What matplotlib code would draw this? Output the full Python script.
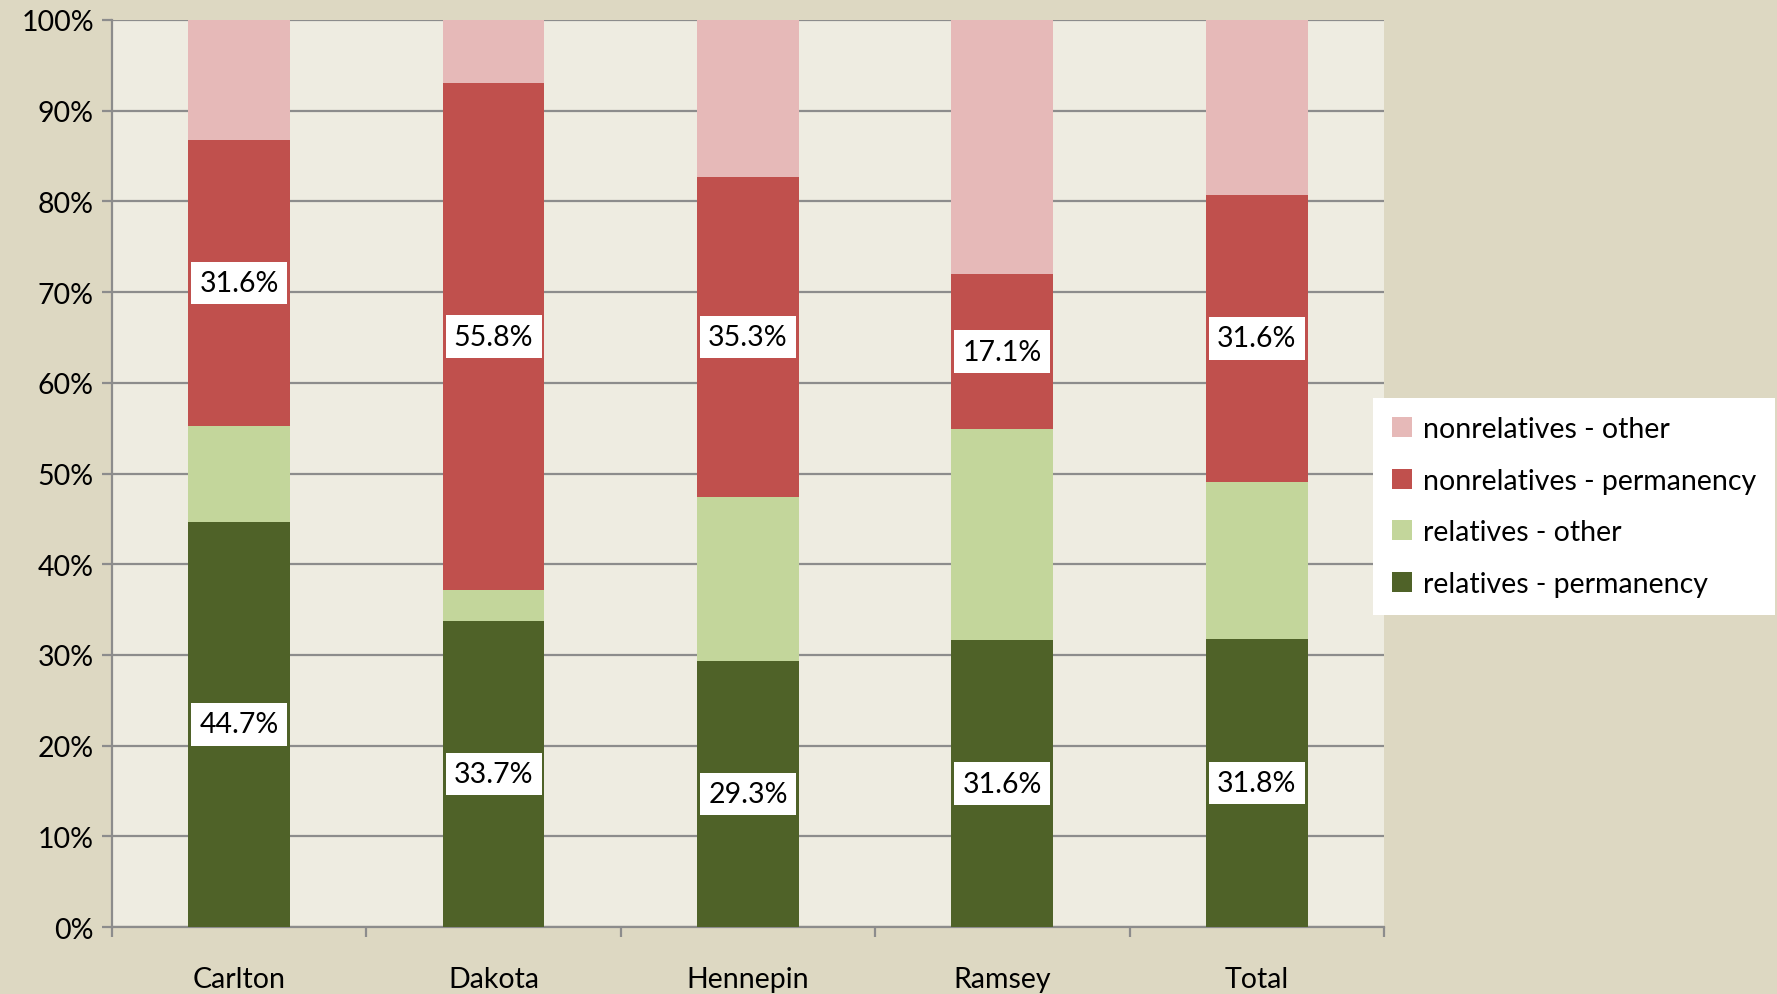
import numpy as np
import matplotlib
matplotlib.use("Agg")
import matplotlib.pyplot as plt
from matplotlib.ticker import PercentFormatter

plt.rcParams['font.family'] = ['Lato', 'DejaVu Sans']

# data (percent of each county)
counties = ["Carlton", "Dakota", "Hennepin", "Ramsey", "Total"]
rel_perm = np.array([44.7, 33.7, 29.3, 31.6, 31.8])
rel_other = np.array([10.5, 3.5, 18.1, 23.3, 17.3])
nonrel_perm = np.array([31.6, 55.8, 35.3, 17.1, 31.6])
nonrel_other = 100 - rel_perm - rel_other - nonrel_perm

series = [
    ("relatives - permanency", rel_perm, "#4F6228", True),
    ("relatives - other", rel_other, "#C3D69B", False),
    ("nonrelatives - permanency", nonrel_perm, "#C0504D", True),
    ("nonrelatives - other", nonrel_other, "#E6B9B8", False),
]

fig = plt.figure(figsize=(17.77, 9.95), dpi=100)
fig.patch.set_facecolor("#DDD8C2")
ax = fig.add_axes([0.063, 0.0673, 0.7158, 0.9116])
ax.set_facecolor("#EEECE1")

x = np.arange(len(counties))
bottom = np.zeros(len(counties))
handles = []
for name, vals, col, show in series:
    b = ax.bar(x, vals, 0.4, bottom=bottom, color=col, label=name, zorder=3)
    handles.append(b)
    if show:
        for xi, yb, v in zip(x, bottom, vals):
            ax.text(xi, yb + v / 2, f"{v:.1f}%", ha="center", va="center",
                    fontsize=20.5, zorder=4,
                    bbox=dict(facecolor="white", edgecolor="none", pad=6))
    bottom = bottom + vals

ax.set_xlim(-0.5, len(counties) - 0.5)
ax.set_ylim(0, 100)
ax.set_yticks(np.arange(0, 101, 10))
ax.yaxis.set_major_formatter(PercentFormatter(decimals=0))
ax.grid(axis="y", color="#8C8C8C", linewidth=1.6, zorder=1)
ax.set_axisbelow(True)

ax.set_xticks(x)
ax.set_xticklabels(counties)
ax.set_xticks(np.arange(-0.5, len(counties), 1.0), minor=True)
ax.tick_params(axis="x", which="major", length=0, pad=28, labelsize=20.5)
ax.tick_params(axis="x", which="minor", length=7, width=1.6, color="#8C8C8C")
ax.tick_params(axis="y", length=7, width=1.6, color="#8C8C8C", labelsize=20.5, pad=6)

for s in ["top", "right"]:
    ax.spines[s].set_visible(False)
for s in ["left", "bottom"]:
    ax.spines[s].set_color("#8C8C8C")
    ax.spines[s].set_linewidth(1.6)

leg = fig.legend(handles[::-1], [h.get_label() for h in handles[::-1]],
                 loc="center left", bbox_to_anchor=(0.7727, 0.49),
                 fontsize=20.5, frameon=True, fancybox=False, framealpha=1,
                 handlelength=0.7, handleheight=0.7, handletextpad=0.4,
                 labelspacing=0.9, borderpad=0.65, borderaxespad=0)
leg.get_frame().set_facecolor("white")
leg.get_frame().set_edgecolor("none")

fig.savefig("out.png", dpi=100, facecolor=fig.get_facecolor())
